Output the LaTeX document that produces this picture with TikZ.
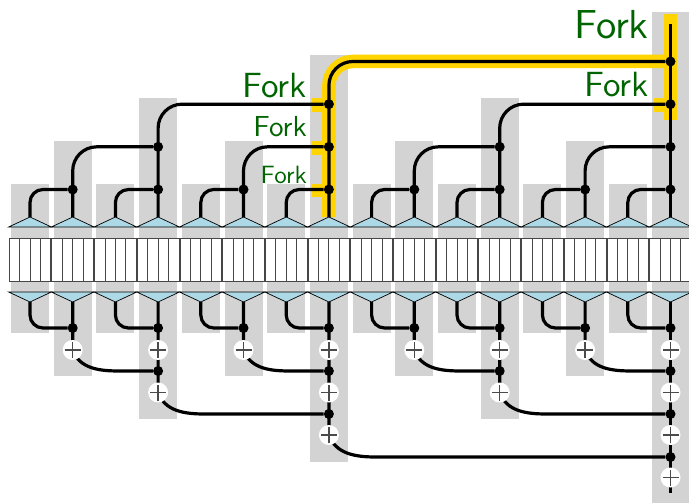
\documentclass[tikz,border=0pt]{standalone}
\usepackage{fontspec}
\newfontfamily\forkfont{lmsans10-regular.otf}
\usetikzlibrary{calc}
\pgfdeclarelayer{colbg}
\pgfdeclarelayer{hilite}
\pgfdeclarelayer{wires}
\pgfsetlayers{colbg,hilite,wires,main}
\definecolor{forkgreen}{RGB}{0,100,0}
\definecolor{colgray}{RGB}{211,211,211}
\definecolor{triblue}{RGB}{173,216,230}
\definecolor{hlyellow}{RGB}{255,212,0}
\definecolor{cellgray}{RGB}{70,70,70}
\definecolor{plusgray}{RGB}{75,75,75}
\tikzset{
  wire/.style={line width=3.2pt, rounded corners=#1},
  wire/.default=13pt,
  hl/.style={line width=13.5pt, draw=hlyellow},
  dotnode/.style={circle, fill=black, inner sep=0pt, minimum size=10pt},
  plusnode/.style={circle, fill=white, inner sep=0pt, minimum size=20pt,
    path picture={\draw[plusgray, line width=1.4pt]
      ([xshift=-8pt]path picture bounding box.center) -- ([xshift=8pt]path picture bounding box.center)
      ([yshift=-8pt]path picture bounding box.center) -- ([yshift=8pt]path picture bounding box.center);}},
  forklabel/.style={text=forkgreen, font=\forkfont\fontsize{#1}{#1}\selectfont, anchor=base east, inner sep=0pt},
  tri/.style={fill=triblue, draw=black, line width=0.7pt},
  cell/.style={fill=white, draw=cellgray, line width=0.9pt},
}
\begin{document}
\begin{tikzpicture}[x=1pt, y=-1pt]
\useasboundingbox (0,0) rectangle (689,503);
\clip (0,0) rectangle (689,503);

% columns, apex coordinates, dots and adders
\foreach \i/\L in {0/0,1/1,2/0,3/2,4/0,5/1,6/0,7/3,8/0,9/1,10/0,11/2,12/0,13/1,14/0,15/4}{
  \pgfmathsetmacro\xx{30+42.7*\i}
  \begin{pgfonlayer}{colbg}
    \fill[colgray] ({\xx-19},{184-43*\L}) rectangle ({\xx+19},{333+43*\L});
  \end{pgfonlayer}
  \coordinate (ua\i) at (\xx,217);
  \coordinate (la\i) at (\xx,302);
  \ifnum\L>0
    \foreach \k in {1,...,\L}{
      \node[dotnode] (td\i-\k) at (\xx,{189.5-42.67*(\k-1)}) {};
      \node[dotnode] (bd\i-\k) at (\xx,{328+43*(\k-1)}) {};
      \node[plusnode] (pl\i-\k) at (\xx,{350+42.5*(\k-1)}) {};
    }
  \fi
  \foreach \c in {0,...,3}{
    \draw[cell] ({\xx-20.85+10.425*\c},238) rectangle ({\xx-20.85+10.425*(\c+1)},281);
  }
  \draw[tri] ({\xx-21.35},227) -- (\xx,217) -- ({\xx+21.35},227) -- cycle;
  \draw[tri] ({\xx-21.35},292) -- (\xx,302) -- ({\xx+21.35},292) -- cycle;
}
\coordinate (top15) at ({30+42.7*15},24);
\coordinate (bot15) at ({30+42.7*15},493);
\coordinate (hltop15) at ({30+42.7*15},14);
\coordinate (hlbot15) at ({30+42.7*15},120);

% wires
\begin{pgfonlayer}{wires}
\foreach \i/\L in {0/0,1/1,2/0,3/2,4/0,5/1,6/0,7/3,8/0,9/1,10/0,11/2,12/0,13/1,14/0}{
  \pgfmathtruncatemacro\p{\i+2^\L}
  \pgfmathtruncatemacro\Lp{\L+1}
  \ifnum\L=0
    \draw[wire=13pt] (ua\i) |- (td\p-\Lp);
    \draw[wire=13pt] (la\i) |- (bd\p-\Lp);
  \else
    \draw[wire=24pt] (ua\i) |- (td\p-\Lp);
    \draw[wire=0pt] (la\i) -- (pl\i-\L.center) to[out=-70,in=180]
      ($(pl\i-\L.center |- bd\p-\Lp.center)+(47,0)$) -- (bd\p-\Lp);
  \fi
}
\draw[wire] (ua15) -- (top15);
\draw[wire] (la15) -- (bot15);
\end{pgfonlayer}

% highlight
\begin{pgfonlayer}{hilite}
\draw[hl, rounded corners=24pt] (ua7) |- (td15-4.center);
\draw[hl] (hltop15) -- (hlbot15);
\foreach \n in {td7-1,td7-2,td7-3,td15-3}{
  \draw[hl] ([xshift=-16.5pt,yshift=-1pt]\n.center) -- ([yshift=-1pt]\n.center);
}
\end{pgfonlayer}

% labels
\node[forklabel=35pt] (fk7c) at (307,98) {Fork};
\node[forklabel=29pt] (fk7b) at (307,136) {Fork};
\node[forklabel=25pt] (fk7a) at (307,183) {Fork};
\node[forklabel=40.5pt] (fk15d) at (649,39) {Fork};
\node[forklabel=35pt] (fk15c) at (649,97) {Fork};
\end{tikzpicture}
\end{document}
